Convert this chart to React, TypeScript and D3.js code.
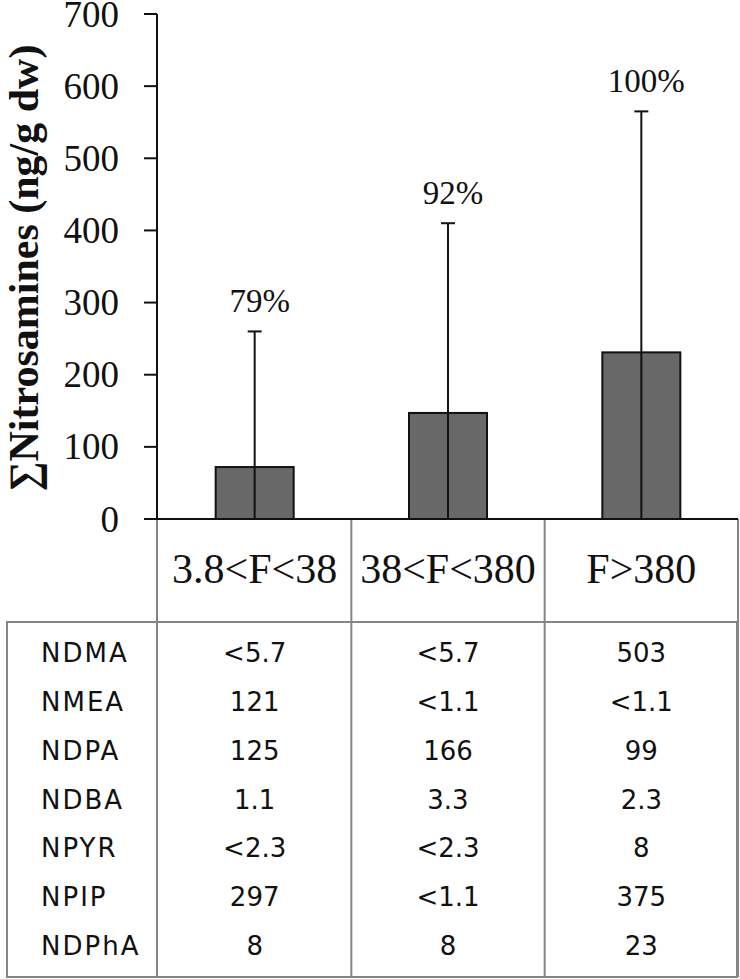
import React from "react";
import * as d3 from "d3";

const categories = ["3.8<F<38", "38<F<380", "F>380"];
const barValues = [72, 147, 231];
const errorUpper = [260, 410, 565];
const percentLabels = ["79%", "92%", "100%"];
const yTicks = [0, 100, 200, 300, 400, 500, 600, 700];

const compounds = ["NDMA", "NMEA", "NDPA", "NDBA", "NPYR", "NPIP", "NDPhA"];
const colLow = ["<5.7", "121", "125", "1.1", "<2.3", "297", "8"];
const colMid = ["<5.7", "<1.1", "166", "3.3", "<2.3", "<1.1", "8"];
const colHigh = ["503", "<1.1", "99", "2.3", "8", "375", "23"];
const tableColumns = [colLow, colMid, colHigh];

const W = 740;
const H = 979;
const serif = "'Liberation Serif', 'Times New Roman', serif";
const sans = "'DejaVu Sans', Verdana, sans-serif";

export default function App() {
  const y = d3.scaleLinear().domain([0, 700]).range([519, 14]);
  const x = d3.scaleBand<string>().domain(categories).range([158, 738]).padding(0);
  const barW = 78;
  const rowY = d3.scalePoint<string>().domain(compounds).range([662, 955]);
  const gridColor = "#858585";
  const tableTop = 622;
  const tableBottom = 977;
  const tableLeft = 7;
  const tableRight = 737;

  return (
    <svg
      width={W}
      height={H}
      style={{ position: "absolute", left: 0, top: 0, display: "block", background: "#fff" }}
    >
      {/* Y axis title */}
      <text
        transform={`translate(38,268) rotate(-90)`}
        textAnchor="middle"
        fontFamily={serif}
        fontWeight="bold"
        fontSize={42}
        fill="#111"
      >
        ∑Nitrosamines (ng/g dw)
      </text>

      {/* Y ticks */}
      {yTicks.map((t) => (
        <g key={t}>
          <line x1={144} x2={157} y1={y(t)} y2={y(t)} stroke="#111" strokeWidth={2} />
          <text
            x={119}
            y={y(t) + 12.5}
            textAnchor="end"
            fontFamily={serif}
            fontSize={37}
            fill="#111"
          >
            {t}
          </text>
        </g>
      ))}

      {/* Category row & table grid */}
      <g stroke={gridColor} strokeWidth={2} fill="none">
        <rect
          x={tableLeft}
          y={tableTop}
          width={tableRight - tableLeft}
          height={tableBottom - tableTop}
        />
        <line x1={157} x2={157} y1={y(0)} y2={tableBottom} />
        {categories.map((c) => (
          <line
            key={c}
            x1={(x(c) as number) + x.bandwidth()}
            x2={(x(c) as number) + x.bandwidth()}
            y1={y(0)}
            y2={tableBottom}
          />
        ))}
      </g>

      {/* Y axis line */}
      <line x1={157} x2={157} y1={y(700)} y2={y(0)} stroke="#111" strokeWidth={2} />

      {/* Bars */}
      {categories.map((c, i) => {
        const cx = (x(c) as number) + x.bandwidth() / 2;
        return (
          <g key={c}>
            <rect
              x={cx - barW / 2}
              y={y(barValues[i])}
              width={barW}
              height={y(0) - y(barValues[i])}
              fill="#686868"
              stroke="#111"
              strokeWidth={2}
            />
            <line x1={cx} x2={cx} y1={y(0)} y2={y(errorUpper[i])} stroke="#111" strokeWidth={2} />
            <line
              x1={cx - 7}
              x2={cx + 7}
              y1={y(errorUpper[i])}
              y2={y(errorUpper[i])}
              stroke="#111"
              strokeWidth={2}
            />
            <text
              x={cx + 5}
              y={y(errorUpper[i]) - 19}
              textAnchor="middle"
              fontFamily={serif}
              fontSize={33}
              fill="#111"
            >
              {percentLabels[i]}
            </text>
            <text
              x={cx}
              y={583}
              textAnchor="middle"
              fontFamily={serif}
              fontSize={42}
              fill="#111"
            >
              {c}
            </text>
          </g>
        );
      })}

      {/* X baseline */}
      <line x1={144} x2={738} y1={y(0)} y2={y(0)} stroke="#111" strokeWidth={2} />

      {/* Table rows */}
      {compounds.map((name, r) => (
        <g key={name}>
          <text
            x={41}
            y={rowY(name)}
            fontFamily={sans}
            fontSize={26}
            letterSpacing={2}
            fill="#111"
          >
            {name}
          </text>
          {categories.map((c, ci) => (
            <text
              key={c}
              x={(x(c) as number) + x.bandwidth() / 2}
              y={rowY(name)}
              textAnchor="middle"
              fontFamily={sans}
              fontSize={26}
              fill="#111"
            >
              {tableColumns[ci][r]}
            </text>
          ))}
        </g>
      ))}
    </svg>
  );
}
